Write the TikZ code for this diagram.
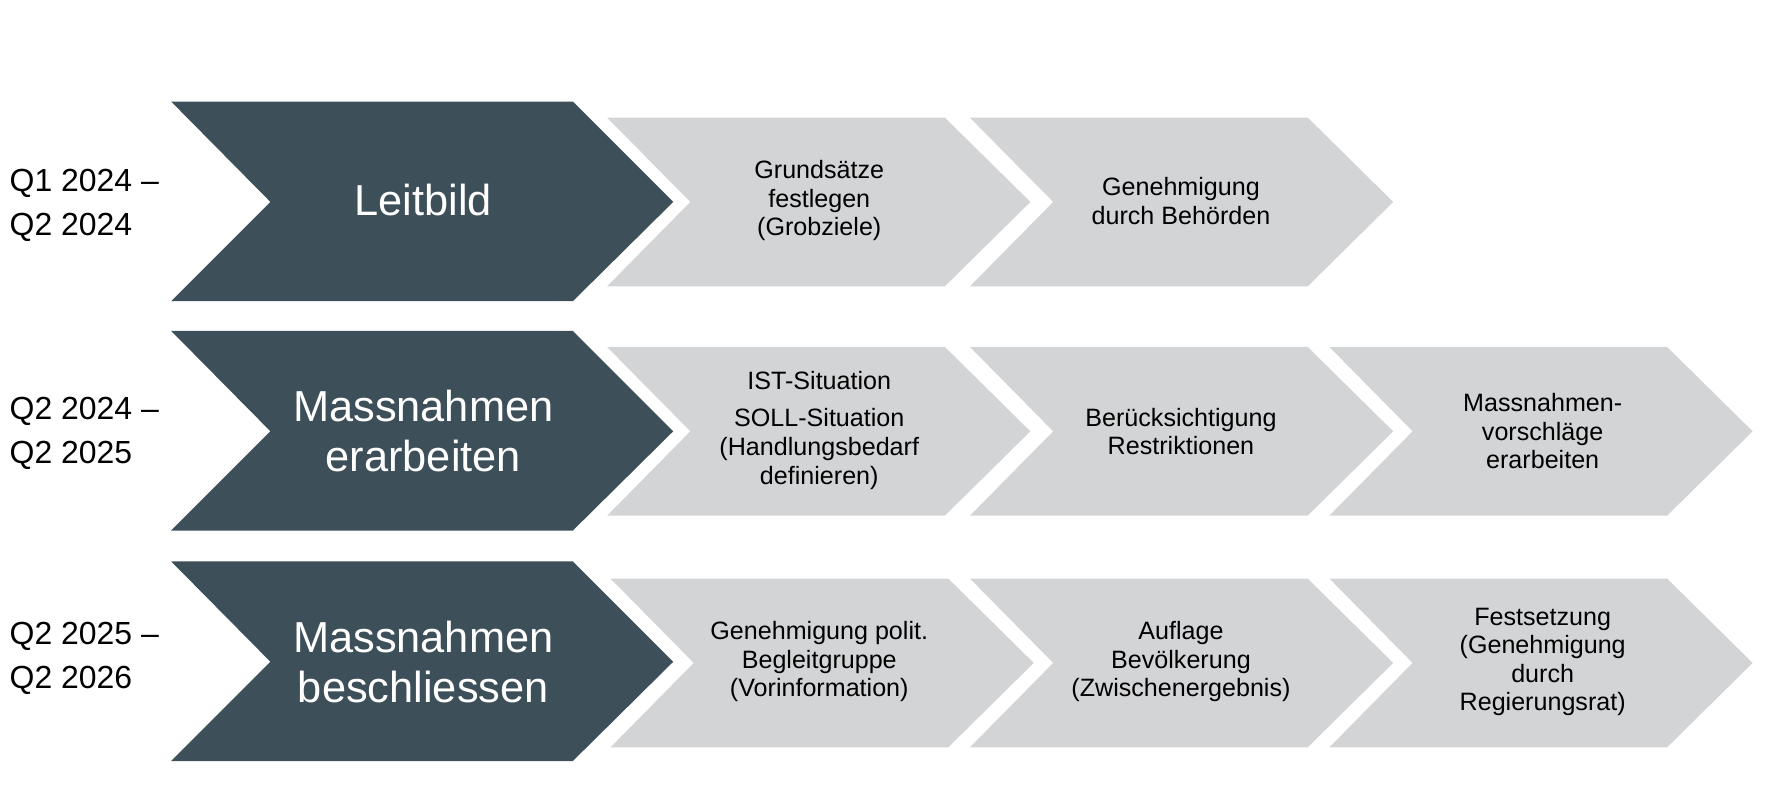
\documentclass[tikz,border=0pt]{standalone}
\usepackage{fontspec}
\setmainfont{Liberation Sans}
\definecolor{darkc}{HTML}{3D4F59}
\definecolor{greyc}{HTML}{D3D4D6}
\begin{document}
\begin{tikzpicture}[x=1pt,y=-1pt,
  lbl/.style={align=center,font=\fontsize{22}{25}\selectfont},
  big/.style={align=center,text=white,font=\fontsize{38}{44}\selectfont},
  quart/.style={align=left,anchor=west,font=\fontsize{28}{39}\selectfont},
  dchev/.style={fill=darkc},
  gchev/.style={fill=greyc}]
\useasboundingbox (0,0) rectangle (1560,701);
\foreach \yc in {177,378,580}{
  \fill[darkc] (150,\yc-88) -- (502,\yc-88) -- (590,\yc) -- (502,\yc+87) -- (150,\yc+87) -- (237,\yc) -- cycle;
}
\foreach \xc/\yc in {532/177,850/177,532/378,850/378,1165/378,535/581,850/581,1165/581}{
  \fill[greyc] (\xc,\yc-74) -- (\xc+296,\yc-74) -- (\xc+371,\yc) -- (\xc+296,\yc+74) -- (\xc,\yc+74) -- (\xc+73,\yc) -- cycle;
}
% row 1
\node[big] (r1) at (371,175) {Leitbild};
\node[quart] (q1) at (5,180) {Q1 2024 –\\Q2 2024};
\node[lbl] (a1) at (718,176) {Grundsätze\\festlegen\\(Grobziele)};
\node[lbl] (a2) at (1035,176) {Genehmigung\\durch Behörden};
% row 2
\node[big] (r2) at (371,378) {Massnahmen\\erarbeiten};
\node[quart] (q2) at (5,380) {Q2 2024 –\\Q2 2025};
\node[lbl] (b1) at (718,377) {IST-Situation\\[8pt]SOLL-Situation\\(Handlungsbedarf\\definieren)};
\node[lbl] (b2) at (1035,378) {Berücksichtigung\\Restriktionen};
\node[lbl] (b3) at (1352,378) {Massnahmen-\\vorschläge\\erarbeiten};
% row 3
\node[big] (r3) at (371,580) {Massnahmen\\beschliessen};
\node[quart] (q3) at (5,577) {Q2 2025 –\\Q2 2026};
\node[lbl] (c1) at (718,580) {Genehmigung polit.\\Begleitgruppe\\(Vorinformation)};
\node[lbl] (c2) at (1035,580) {Auflage\\Bevölkerung\\(Zwischenergebnis)};
\node[lbl] (c3) at (1352,580) {Festsetzung\\(Genehmigung\\durch\\Regierungsrat)};
\end{tikzpicture}
\end{document}
